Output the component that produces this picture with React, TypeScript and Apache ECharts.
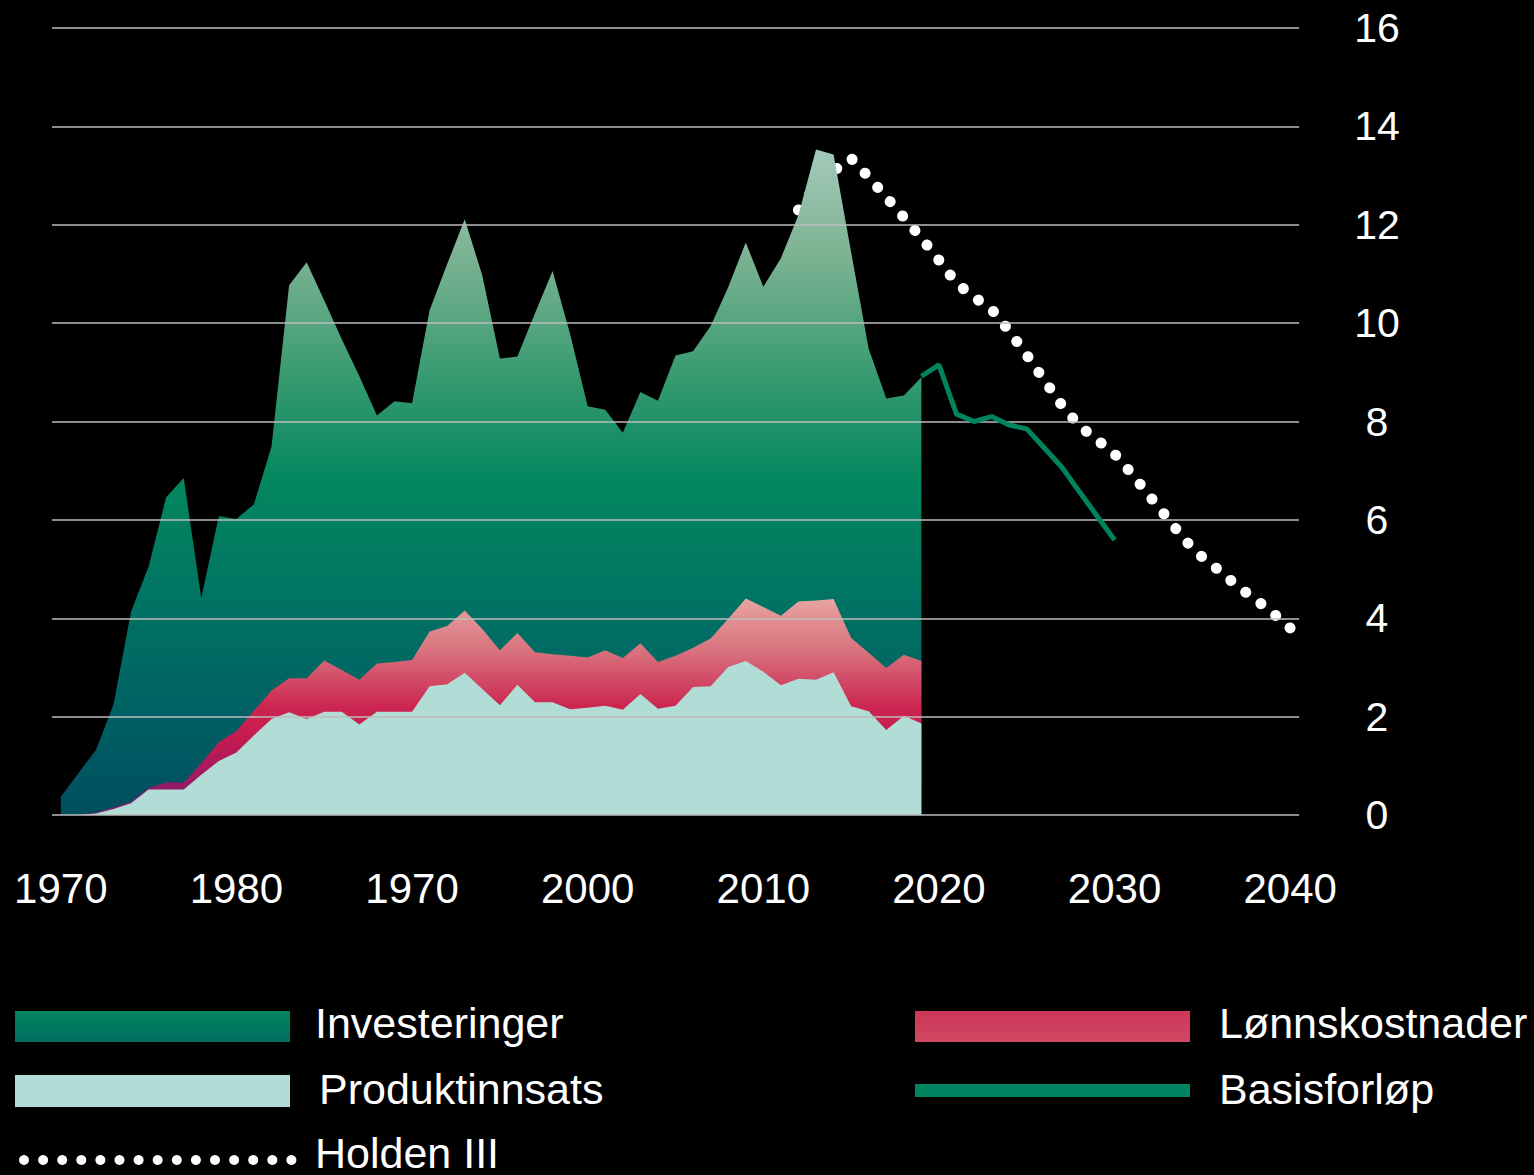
import React, { useEffect, useRef } from "react";
import * as echarts from "echarts";

const years = [
  1970, 1971, 1972, 1973, 1974, 1975, 1976, 1977, 1978, 1979,
  1980, 1981, 1982, 1983, 1984, 1985, 1986, 1987, 1988, 1989,
  1990, 1991, 1992, 1993, 1994, 1995, 1996, 1997, 1998, 1999,
  2000, 2001, 2002, 2003, 2004, 2005, 2006, 2007, 2008, 2009,
  2010, 2011, 2012, 2013, 2014, 2015, 2016, 2017, 2018, 2019,
];
const produktinnsats = [
  0, 0, 0.03, 0.12, 0.24, 0.52, 0.52, 0.52, 0.82, 1.1,
  1.27, 1.62, 1.95, 2.09, 1.95, 2.1, 2.1, 1.84, 2.1, 2.1,
  2.1, 2.62, 2.66, 2.89, 2.56, 2.23, 2.65, 2.29, 2.29, 2.15,
  2.18, 2.22, 2.14, 2.46, 2.16, 2.22, 2.6, 2.62, 3.01, 3.13,
  2.91, 2.64, 2.77, 2.75, 2.9, 2.21, 2.11, 1.73, 2.02, 1.86,
];
const lonnskostnader = [
  0, 0, 0.02, 0.03, 0.03, 0.03, 0.14, 0.14, 0.23, 0.38,
  0.44, 0.5, 0.58, 0.69, 0.83, 1.04, 0.85, 0.91, 0.98, 1.01,
  1.05, 1.11, 1.18, 1.27, 1.22, 1.12, 1.05, 1.02, 0.98, 1.09,
  1.02, 1.13, 1.05, 1.03, 0.95, 1.02, 0.8, 0.97, 0.98, 1.27,
  1.32, 1.41, 1.57, 1.61, 1.49, 1.39, 1.19, 1.26, 1.24, 1.27,
];
const investeringer = [
  0.37, 0.85, 1.27, 2.09, 3.86, 4.5, 5.8, 6.19, 3.36, 4.6,
  4.31, 4.2, 4.96, 7.99, 8.46, 7.32, 6.72, 6.17, 5.04, 5.3,
  5.22, 6.53, 7.36, 7.95, 7.19, 5.93, 5.62, 6.89, 7.79, 6.54,
  5.11, 4.89, 4.58, 5.11, 5.31, 6.1, 6.03, 6.35, 6.74, 7.24,
  6.51, 7.27, 7.86, 9.17, 9.04, 7.84, 6.18, 5.48, 5.27, 5.77,
];

const basisYears = [2019, 2020, 2021, 2022, 2023, 2024, 2025, 2026, 2027, 2028, 2029, 2030];
const basisforlop = [8.92, 9.15, 8.15, 8.0, 8.1, 7.93, 7.85, 7.46, 7.07, 6.57, 6.08, 5.59];

const holdenYears = [
  2012, 2013, 2014, 2015, 2016, 2017, 2018, 2019, 2020, 2021,
  2022, 2023, 2024, 2025, 2026, 2027, 2028, 2029, 2030, 2031,
  2032, 2033, 2034, 2035, 2036, 2037, 2038, 2039, 2040,
];
const holdenIII = [
  12.3, 12.8, 13.1, 13.35, 12.97, 12.56, 12.15, 11.73, 11.28, 10.81,
  10.53, 10.28, 9.84, 9.35, 8.84, 8.33, 7.91, 7.63, 7.34, 6.93,
  6.48, 6.04, 5.59, 5.24, 4.96, 4.65, 4.39, 4.11, 3.8,
];

const xTickValues = [1970, 1980, 1990, 2000, 2010, 2020, 2030, 2040];
const xTickLabels = ["1970", "1980", "1970", "2000", "2010", "2020", "2030", "2040"];

const FONT = '"Liberation Sans", Arial, sans-serif';

function pairs(xs: number[], ys: number[]) {
  return xs.map((x, i) => [x, ys[i]]);
}

// cumulative tops of the stacked bands (drawn back-to-front)
const redTop = produktinnsats.map((v, i) => +(v + lonnskostnader[i]).toFixed(3));
const totalTop = redTop.map((v, i) => +(v + investeringer[i]).toFixed(3));

function grad(stops: [number, string][]) {
  return {
    type: "linear",
    x: 0,
    y: 0,
    x2: 0,
    y2: 1,
    colorStops: stops.map(([offset, color]) => ({ offset, color })),
    global: false,
  };
}

export default function App() {
  const ref = useRef<HTMLDivElement>(null);
  useEffect(() => {
    if (!ref.current) return;
    const chart = echarts.init(ref.current, null, { renderer: "svg" });
    const greenGrad = grad([
      [0, "#a3c9ba"],
      [0.15, "#7fb494"],
      [0.35, "#34996f"],
      [0.5, "#03875f"],
      [0.7, "#007163"],
      [0.85, "#006064"],
      [1, "#004e5f"],
    ]);
    const redGrad = grad([
      [0, "#e8a4a1"],
      [0.25, "#d8707c"],
      [0.5, "#cc2550"],
      [0.65, "#c51a50"],
      [1, "#7a1a72"],
    ]);
    const legendGreen = grad([
      [0, "#00855f"],
      [1, "#006d60"],
    ]);
    const legendRed = grad([
      [0, "#cf3558"],
      [1, "#cf4862"],
    ]);
    const textStyle = (text: string, x: number, y: number) => ({
      type: "text",
      style: {
        text,
        x,
        y,
        fill: "#ffffff",
        fontSize: 43,
        fontFamily: FONT,
        verticalAlign: "middle",
        align: "left",
      },
    });
    const dots: any[] = [];
    for (let i = 0; i < 15; i++) {
      dots.push({
        type: "circle",
        shape: { cx: 24 + i * 19.1, cy: 1160, r: 5 },
        style: { fill: "#ffffff" },
      });
    }
    const area = (name: string, ys: number[], color: any) => ({
      name,
      type: "line",
      symbol: "none",
      lineStyle: { width: 0 },
      areaStyle: { color, opacity: 1 },
      data: pairs(years, ys),
      z: 2,
    });
    chart.setOption({
      animation: false,
      backgroundColor: "#000000",
      grid: { left: 52, right: 235, top: 28, bottom: 360, containLabel: false },
      xAxis: {
        type: "value",
        min: 1969.5,
        max: 2040.5,
        axisLine: { show: false },
        axisTick: { show: false },
        splitLine: { show: false },
        axisLabel: {
          customValues: xTickValues,
          color: "#ffffff",
          fontSize: 42,
          fontFamily: FONT,
          margin: 52,
          formatter: (v: number) => {
            const i = xTickValues.indexOf(Math.round(v));
            return i >= 0 ? xTickLabels[i] : "";
          },
        },
      },
      yAxis: {
        type: "value",
        position: "right",
        min: 0,
        max: 16,
        interval: 2,
        z: 5,
        axisLine: { show: false },
        axisTick: { show: false },
        splitLine: { show: true, lineStyle: { color: "#bdbdbd", width: 1.6 } },
        axisLabel: {
          color: "#ffffff",
          fontSize: 41,
          fontFamily: FONT,
          align: "center",
          margin: 78,
        },
      },
      series: [
        {
          name: "Holden III",
          type: "line",
          symbol: "none",
          lineStyle: { color: "#ffffff", width: 11, type: [0.1, 19], cap: "round" },
          data: pairs(holdenYears, holdenIII),
          z: 1,
        },
        area("Investeringer", totalTop, greenGrad),
        area("Lønnskostnader", redTop, redGrad),
        area("Produktinnsats", produktinnsats, "#b2dcd6"),
        {
          name: "Basisforløp",
          type: "line",
          symbol: "none",
          lineStyle: { color: "#00845f", width: 5 },
          data: pairs(basisYears, basisforlop),
          z: 10,
        },
      ],
      graphic: [
        { type: "rect", shape: { x: 15, y: 1011, width: 275, height: 31 }, style: { fill: legendGreen } },
        textStyle("Investeringer", 315, 1023),
        { type: "rect", shape: { x: 15, y: 1075, width: 275, height: 32 }, style: { fill: "#b2dcd6" } },
        textStyle("Produktinnsats", 319, 1089),
        ...dots,
        textStyle("Holden III", 315, 1153),
        { type: "rect", shape: { x: 915, y: 1011, width: 275, height: 31 }, style: { fill: legendRed } },
        textStyle("Lønnskostnader", 1219, 1023),
        { type: "rect", shape: { x: 915, y: 1084, width: 275, height: 13 }, style: { fill: "#00845f" } },
        textStyle("Basisforløp", 1219, 1089),
      ],
    });

    // fit the dot spacing so that the dotted line ends on a dot
    try {
      const pts = pairs(holdenYears, holdenIII).map(
        (p) => chart.convertToPixel({ gridIndex: 0 }, p) as number[]
      );
      let len = 0;
      for (let i = 1; i < pts.length; i++) {
        len += Math.hypot(pts[i][0] - pts[i - 1][0], pts[i][1] - pts[i - 1][1]);
      }
      const n = Math.max(1, Math.round(len / 19));
      const gap = (len - 0.3) / n;
      chart.setOption({
        series: [
          { name: "Holden III", lineStyle: { type: [0.1, gap - 0.1] } },
        ],
      });
    } catch (e) {
      // keep default spacing
    }
    return () => chart.dispose();
  }, []);
  return (
    <div
      ref={ref}
      style={{ position: "fixed", left: 0, top: 0, width: 1534, height: 1175, background: "#000" }}
    />
  );
}
